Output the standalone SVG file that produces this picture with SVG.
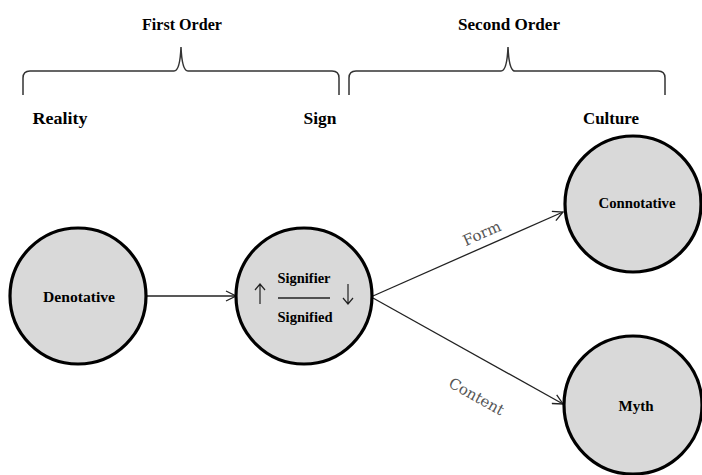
<svg xmlns="http://www.w3.org/2000/svg" width="702" height="475" viewBox="0 0 702 475">
<style>
.node{fill:#d9d9d9;stroke:#000;stroke-width:3.2}
.t{font-family:"Liberation Serif","Times New Roman",serif;font-weight:bold;font-size:17px;fill:#000;text-anchor:middle}
.s{font-family:"Liberation Serif","Times New Roman",serif;font-weight:bold;font-size:14px;fill:#000;text-anchor:middle}
.lbl{font-family:"DejaVu Serif","Liberation Serif",serif;font-size:15px;fill:#555;text-anchor:middle}
.br{fill:none;stroke:#333;stroke-width:1.5}
.ed{fill:none;stroke:#222;stroke-width:1.3}
</style>
<defs>
<marker id="ah" viewBox="0 0 12 12" refX="11" refY="6" markerWidth="12" markerHeight="12" markerUnits="userSpaceOnUse" orient="auto">
<path d="M1,1 L11,6 L1,11" fill="none" stroke="#222" stroke-width="1.3"/>
</marker>
</defs>
<rect width="702" height="475" fill="#fff"/>
<g id="headers">
<text class="t" x="182" y="30" textLength="80" lengthAdjust="spacingAndGlyphs">First Order</text>
<text class="t" x="509" y="30" textLength="102" lengthAdjust="spacingAndGlyphs">Second Order</text>
<path class="br" d="M23,95 L23,78 Q23,71 30,71 L174,71 Q180,71 181,47 Q182,71 188,71 L332,71 Q339,71 339,78 L339,95"/>
<path class="br" d="M349,95 L349,78 Q349,71 356,71 L501,71 Q507,71 508,47 Q509,71 515,71 L658,71 Q665,71 665,78 L665,95"/>
<text class="t" x="60" y="124" textLength="55" lengthAdjust="spacingAndGlyphs">Reality</text>
<text class="t" x="320" y="124" textLength="33" lengthAdjust="spacingAndGlyphs">Sign</text>
<text class="t" x="611" y="124" textLength="56" lengthAdjust="spacingAndGlyphs">Culture</text>
</g>
<g id="connectors">
<line class="ed" x1="147" y1="296" x2="236" y2="296" marker-end="url(#ah)"/>
<line class="ed" x1="373" y1="296" x2="563" y2="212" marker-end="url(#ah)"/>
<line class="ed" x1="373" y1="298" x2="563" y2="404" marker-end="url(#ah)"/>
<text class="lbl" transform="translate(484,238) rotate(-24)">Form</text>
<text class="lbl" transform="translate(474,401) rotate(29)">Content</text>
</g>
<g id="denotative">
<circle class="node" cx="78" cy="296" r="68"/>
<text class="s" x="79" y="302" textLength="72" lengthAdjust="spacingAndGlyphs">Denotative</text>
</g>
<g id="sign">
<circle class="node" cx="304" cy="296" r="68"/>
<text class="s" x="304" y="283" textLength="53" lengthAdjust="spacingAndGlyphs">Signifier</text>
<line x1="278" y1="298" x2="330" y2="298" stroke="#222" stroke-width="1.3"/>
<text class="s" x="305" y="322" textLength="55" lengthAdjust="spacingAndGlyphs">Signified</text>
<path d="M260,304 L260,284 M255,290 L260,284 L265,290" fill="none" stroke="#222" stroke-width="1.2"/>
<path d="M348,284 L348,304 M343,298 L348,304 L353,298" fill="none" stroke="#222" stroke-width="1.2"/>
</g>
<g id="connotative">
<circle class="node" cx="633" cy="204" r="68"/>
<text class="s" x="637" y="208" textLength="77" lengthAdjust="spacingAndGlyphs">Connotative</text>
</g>
<g id="myth">
<circle class="node" cx="633" cy="405" r="69"/>
<text class="s" x="636" y="411" textLength="35" lengthAdjust="spacingAndGlyphs">Myth</text>
</g>
</svg>
